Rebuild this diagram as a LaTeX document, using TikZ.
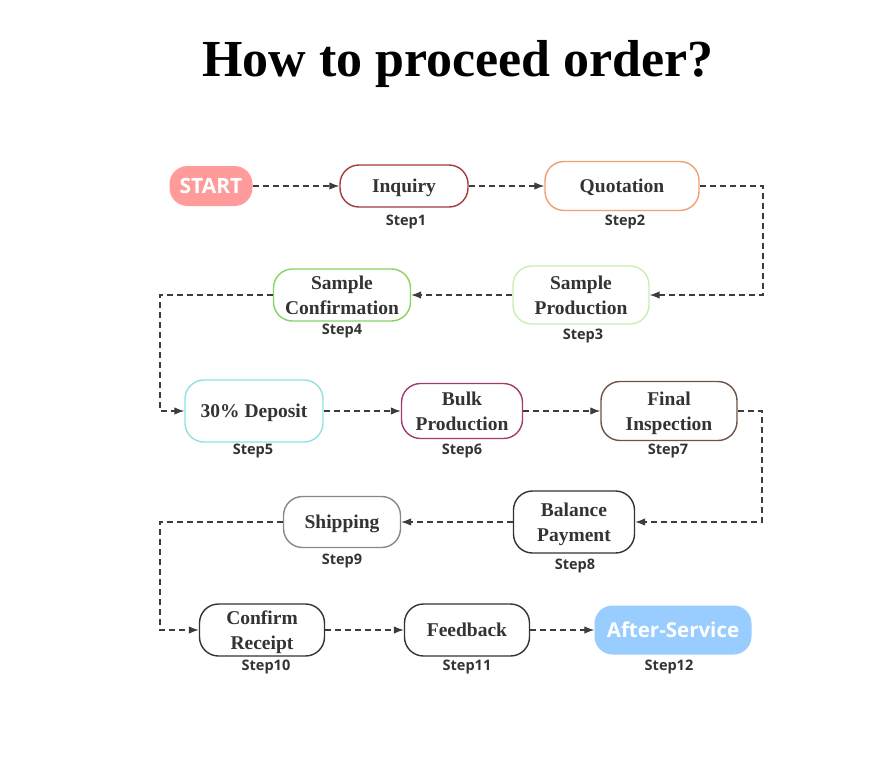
\documentclass[tikz,border=0pt]{standalone}
\usepackage{fontspec}
\setmainfont{Liberation Serif}
\newfontfamily\stepsans{Open Sans}
\usetikzlibrary{arrows.meta}
\definecolor{cstart}{HTML}{FF9B9B}
\definecolor{cinq}{HTML}{A33A3A}
\definecolor{cquo}{HTML}{F0A070}
\definecolor{csp}{HTML}{C8EEB4}
\definecolor{csc}{HTML}{86D462}
\definecolor{cdep}{HTML}{8EE2E2}
\definecolor{cbulk}{HTML}{A33A72}
\definecolor{cfin}{HTML}{6E5246}
\definecolor{cdark}{HTML}{333333}
\definecolor{cship}{HTML}{888888}
\definecolor{cafter}{HTML}{9ACDFF}
\definecolor{cline}{HTML}{3C3C3C}
\tikzset{
  box/.style={draw=#1, line width=1.4pt, rounded corners=19pt, fill=white,
    align=center, font=\fontsize{19.5}{24.5}\selectfont\bfseries, text=cdark,
    inner sep=0pt, text depth=0pt},
  solidbox/.style={fill=#1, rounded corners=18pt, align=center,
    text=white, inner sep=0pt, text depth=0pt},
  steplbl/.style={font=\fontsize{14.5}{17}\selectfont\stepsans\bfseries, text=cdark},
  conn/.style={draw=cline, line width=1.2pt, dash pattern=on 6pt off 4pt,
    -{Latex[length=10pt,width=7.5pt]}},
}
\begin{document}
\begin{tikzpicture}[x=1pt,y=-1pt]
\useasboundingbox (0,0) rectangle (884,780);
\node (title) at (458,64) {\fontsize{52}{60}\selectfont\bfseries How to proceed order?};
% row 1
\node[solidbox=cstart, minimum width=83pt, minimum height=40pt,
  font=\fontsize{21}{24}\selectfont\stepsans\bfseries] (start) at (211,186) {START};
\node[box=cinq, minimum width=128pt, minimum height=42pt] (inq) at (404,186) {Inquiry};
\node[box=cquo, minimum width=154pt, minimum height=49pt] (quo) at (622,186) {Quotation};
\node[steplbl] (s1) at (406,222) {Step1};
\node[steplbl] (s2) at (625,222) {Step2};
% row 2
\node[box=csp, minimum width=136pt, minimum height=58pt] (sp) at (581,295) {Sample\\Production};
\node[box=csc, minimum width=137pt, minimum height=52pt] (sc) at (342,295) {Sample\\Confirmation};
\node[steplbl] (s3) at (583,336) {Step3};
\node[steplbl] (s4) at (342,331) {Step4};
% row 3
\node[box=cdep, minimum width=138pt, minimum height=62pt] (dep) at (254,411) {30\% Deposit};
\node[box=cbulk, minimum width=121pt, minimum height=55pt] (bulk) at (462,411) {Bulk\\Production};
\node[box=cfin, minimum width=136pt, minimum height=59pt] (fin) at (669,411) {Final\\Inspection};
\node[steplbl] (s5) at (253,451) {Step5};
\node[steplbl] (s6) at (462,451) {Step6};
\node[steplbl] (s7) at (668,451) {Step7};
% row 4
\node[box=cdark, minimum width=121pt, minimum height=62pt] (bal) at (574,522) {Balance\\Payment};
\node[box=cship, minimum width=117pt, minimum height=51pt] (ship) at (342,522) {Shipping};
\node[steplbl] (s8) at (575,566) {Step8};
\node[steplbl] (s9) at (342,561) {Step9};
% row 5
\node[box=cdark, minimum width=125pt, minimum height=52pt] (conf) at (262,630) {Confirm\\Receipt};
\node[box=cdark, minimum width=125pt, minimum height=52pt] (feed) at (467,630) {Feedback};
\node[solidbox=cafter, minimum width=157pt, minimum height=49pt,
  font=\fontsize{20.5}{24}\selectfont\stepsans\bfseries] (after) at (673,630) {After-Service};
\node[steplbl] (s10) at (266,667) {Step10};
\node[steplbl] (s11) at (467,667) {Step11};
\node[steplbl] (s12) at (669,667) {Step12};
% corner coordinates
\coordinate (c1) at (763,186);
\coordinate (c2) at (763,295);
\coordinate (c3) at (160,295);
\coordinate (c4) at (160,411);
\coordinate (c5) at (762,411);
\coordinate (c6) at (762,522);
\coordinate (c7) at (160,522);
\coordinate (c8) at (160,630);
% connectors
\draw[conn] (start) -- (inq);
\draw[conn] (inq) -- (quo);
\draw[conn] (quo.east) -- (c1) -- (c2) -- (sp.east);
\draw[conn] (sp) -- (sc);
\draw[conn] (sc.west) -- (c3) -- (c4) -- (dep.west);
\draw[conn] (dep) -- (bulk);
\draw[conn] (bulk) -- (fin);
\draw[conn] (fin.east) -- (c5) -- (c6) -- (bal.east);
\draw[conn] (bal) -- (ship);
\draw[conn] (ship.west) -- (c7) -- (c8) -- (conf.west);
\draw[conn] (conf) -- (feed);
\draw[conn] (feed) -- (after);
\end{tikzpicture}
\end{document}
